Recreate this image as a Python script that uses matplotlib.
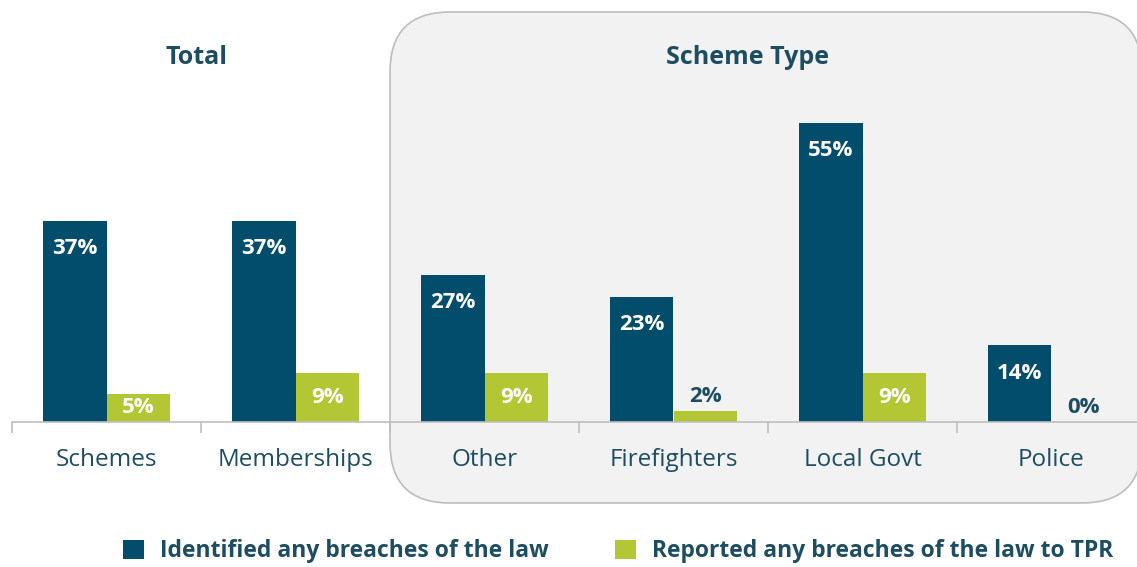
import matplotlib
matplotlib.use("Agg")
import matplotlib.pyplot as plt
from matplotlib.patches import FancyBboxPatch
import numpy as np

categories = ["Schemes", "Memberships", "Other", "Firefighters", "Local Govt", "Police"]
identified = [37, 37, 27, 23, 55, 14]
reported = [5, 9, 9, 2, 9, 0]
series_names = ["Identified any breaches of the law", "Reported any breaches of the law to TPR"]
group_titles = ["Total", "Scheme Type"]

BLUE = "#024d6b"
GREEN = "#b3c634"
TEXT = "#1d4d61"
AXIS = "#bfbfbf"
FONT = "Open Sans"

W, H = 1137, 567
fig = plt.figure(figsize=(W / 100, H / 100), dpi=100)
fig.patch.set_facecolor("white")

def fx(px):
    return px / W

def fy(py):
    return (H - py) / H

# rounded background box for scheme types (in inches via dpi_scale_trans)
box = FancyBboxPatch((3.90, (H - 503) / 100), 7.52, (503 - 12) / 100,
                     boxstyle="round,pad=0,rounding_size=0.6",
                     transform=fig.dpi_scale_trans, facecolor="#f2f2f2",
                     edgecolor="#bdbdbd", linewidth=1.2, zorder=-5)
fig.patches.append(box)

px_per_pct = 201 / 37.0
ylim_top = 60
ax_h = ylim_top * px_per_pct
ax = fig.add_axes([fx(12), fy(421.5), 1134 / W, ax_h / H])
ax.set_zorder(2)
ax.set_facecolor("none")
ax.set_xlim(-0.5, len(categories) - 0.5)
ax.set_ylim(0, ylim_top)

x = np.arange(len(categories))
w = 0.335
b1 = ax.bar(x - w / 2, identified, w, color=BLUE, label=series_names[0], zorder=2)
b2 = ax.bar(x + w / 2, reported, w, color=GREEN, label=series_names[1], zorder=2)

LBL = 16
for xi, v in zip(x - w / 2, identified):
    ax.annotate(f"{v}%", (xi, v), xytext=(0, -28 * 0.72), textcoords="offset points",
                ha="center", va="center", color="white", fontsize=LBL,
                fontweight="bold", family=FONT, zorder=3)
for xi, v in zip(x + w / 2, reported):
    if v >= 4:
        ax.text(xi, v / 2, f"{v}%", ha="center", va="center", color="white",
                fontsize=LBL, fontweight="bold", family=FONT, zorder=3)
    else:
        ax.annotate(f"{v}%", (xi, v), xytext=(0, 14 * 0.72), textcoords="offset points",
                    ha="center", va="center", color=TEXT, fontsize=LBL,
                    fontweight="bold", family=FONT, zorder=3)

for s in ["top", "right", "left"]:
    ax.spines[s].set_visible(False)
ax.spines["bottom"].set_color(AXIS)
ax.spines["bottom"].set_linewidth(1.2)
ax.set_yticks([])
ax.set_xticks(x)
ax.set_xticklabels(categories, fontsize=17.5, color=TEXT, family=FONT)
ax.tick_params(axis="x", which="major", length=0, pad=19)
ax.set_xticks(np.arange(-0.5, len(categories), 1.0), minor=True)
ax.tick_params(axis="x", which="minor", length=8, color=AXIS, width=1.2)

fig.text(fx(197), fy(57), group_titles[0], ha="center", va="center", fontsize=18,
         fontweight="bold", color=TEXT, family=FONT)
fig.text(fx(748), fy(57), group_titles[1], ha="center", va="center", fontsize=18,
         fontweight="bold", color=TEXT, family=FONT)

leg = fig.legend(handles=[b1, b2], loc="center", bbox_to_anchor=(fx(618), fy(551)),
                 ncol=2, frameon=False, handlelength=0.9, handleheight=0.9,
                 handletextpad=0.7, columnspacing=2.9,
                 prop={"family": FONT, "weight": "bold", "size": 16.5})
for t in leg.get_texts():
    t.set_color(TEXT)

fig.savefig("out.png", dpi=100)
